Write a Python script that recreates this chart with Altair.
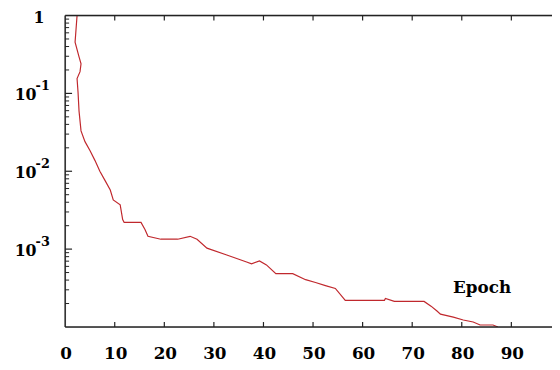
import altair as alt
import pandas as pd

FONT = "DejaVu Serif"

# curve
epoch = [2.4, 2.0, 2.8, 3.2, 3.0, 2.4, 2.6, 2.8, 3.2, 4.0, 5.0, 6.0, 7.0, 8.0, 9.1, 9.7,
         11.1, 11.6, 11.9, 15.3, 16.1, 16.7, 19.3, 22.7, 25.2, 26.6, 28.6, 32.6, 36.6,
         37.6, 39.2, 40.6, 42.5, 45.9, 48.5, 50.5, 52.5, 54.5, 56.5, 60.4, 64.4, 64.6,
         66.4, 72.4, 73.8, 75.0, 75.7, 78.3, 80.3, 82.3, 83.7, 86.3, 87.3]
loss = [1.0, 0.455, 0.294, 0.240, 0.190, 0.155, 0.103, 0.0592, 0.0330, 0.0240, 0.0185,
        0.0138, 0.0100, 0.00769, 0.00574, 0.00429, 0.00371, 0.0024, 0.0022, 0.0022,
        0.00179, 0.00146, 0.00134, 0.00134, 0.00146, 0.00134, 0.00103, 0.00084,
        0.000684, 0.000646, 0.000705, 0.000627, 0.000483, 0.000483, 0.000405,
        0.000372, 0.00034, 0.000312, 0.00022, 0.00022, 0.00022, 0.000233, 0.000213,
        0.000213, 0.000185, 0.00016, 0.000146, 0.000134, 0.000123, 0.000116,
        0.000106, 0.000106, 0.0001]

x_labels = [0, 10, 20, 30, 40, 50, 60, 70, 80, 90]
x_ticks = [10, 20, 30, 40, 50, 60, 70, 80, 90]
y_decades = [1e-1, 1e-2, 1e-3]
y_exponents = ["-1", "-2", "-3"]
y_minor = [m * d for d in [1e-4, 1e-3, 1e-2, 1e-1] for m in [2, 3, 4, 5, 6, 7, 8, 9]]

W, H = 494, 316
xs = alt.Scale(domain=[0, 98.2], nice=False, zero=False)
ys = alt.Scale(type="log", domain=[1e-4, 1], nice=False)
AX = "#222222"

df = pd.DataFrame({"epoch": epoch, "loss": loss, "i": list(range(len(epoch)))})
one = pd.DataFrame({"k": [0]})

line = alt.Chart(df).mark_line(color="#c0282d", strokeWidth=1.2, clip=True).encode(
    x=alt.X("epoch:Q", scale=xs, axis=None),
    y=alt.Y("loss:Q", scale=ys, axis=None),
    order="i:Q",
)

xt = pd.DataFrame({"t": x_ticks})
bottom_ticks = alt.Chart(xt).mark_rule(color=AX, strokeWidth=1.2).encode(
    x=alt.X("t:Q", scale=xs, axis=None), y=alt.value(H), y2=alt.value(H - 5))
top_ticks = alt.Chart(xt).mark_rule(color=AX, strokeWidth=1.2).encode(
    x=alt.X("t:Q", scale=xs, axis=None), y=alt.value(0), y2=alt.value(5))
top_line = alt.Chart(one).mark_rule(color=AX, strokeWidth=1.5).encode(
    x=alt.value(0), x2=alt.value(W), y=alt.value(0))
bottom_line = alt.Chart(one).mark_rule(color=AX, strokeWidth=1.5).encode(
    x=alt.value(0), x2=alt.value(W), y=alt.value(H))
left_line = alt.Chart(one).mark_rule(color=AX, strokeWidth=1.5).encode(
    x=alt.value(0), y=alt.value(0), y2=alt.value(H))

xlab = alt.Chart(pd.DataFrame({"t": x_labels})).mark_text(
    baseline="middle", dx=1, font=FONT, fontSize=17, fontWeight="bold", color="black").encode(
    x=alt.X("t:Q", scale=xs, axis=None), y=alt.value(H + 28), text="t:Q")

ymin = alt.Chart(pd.DataFrame({"v": y_minor})).mark_rule(color=AX, strokeWidth=1).encode(
    y=alt.Y("v:Q", scale=ys, axis=None), x=alt.value(0), x2=alt.value(4))
ymaj = alt.Chart(pd.DataFrame({"v": y_decades})).mark_rule(color=AX, strokeWidth=1.2).encode(
    y=alt.Y("v:Q", scale=ys, axis=None), x=alt.value(0), x2=alt.value(7))

ylab = pd.DataFrame({"v": y_decades, "b": ["10"] * 3, "e": y_exponents})
ybase = alt.Chart(ylab).mark_text(align="right", baseline="middle", dy=2, font=FONT,
                                  fontSize=16, fontWeight="bold", color="black").encode(
    x=alt.value(-29), y=alt.Y("v:Q", scale=ys, axis=None), text="b:N")
yexp = alt.Chart(ylab).mark_text(align="left", baseline="middle", dy=-7, font=FONT,
                                 fontSize=13, fontWeight="bold", color="black").encode(
    x=alt.value(-30), y=alt.Y("v:Q", scale=ys, axis=None), text="e:N")
yone = alt.Chart(pd.DataFrame({"v": [1.0], "t": ["1"]})).mark_text(
    align="right", baseline="middle", dy=3, font=FONT, fontSize=16, fontWeight="bold",
    color="black").encode(x=alt.value(-21), y=alt.Y("v:Q", scale=ys, axis=None), text="t:N")

epoch_lbl = alt.Chart(pd.DataFrame({"x": [84.1], "y": [3.2e-4], "t": ["Epoch"]})).mark_text(
    font=FONT, fontSize=17, fontWeight="bold", color="black").encode(
    x=alt.X("x:Q", scale=xs, axis=None), y=alt.Y("y:Q", scale=ys, axis=None), text="t:N")

chart = alt.layer(line, bottom_ticks, top_ticks, top_line, bottom_line, left_line, xlab,
                  ymin, ymaj, ybase, yexp, yone, epoch_lbl).properties(
    width=W, height=H, autosize=alt.AutoSizeParams(type="none"),
    padding={"left": 58, "top": 5, "right": 0, "bottom": 40},
).configure_view(stroke=None).configure(background="white")

chart.save("out.html", embed_options={"renderer": "svg", "actions": False})
